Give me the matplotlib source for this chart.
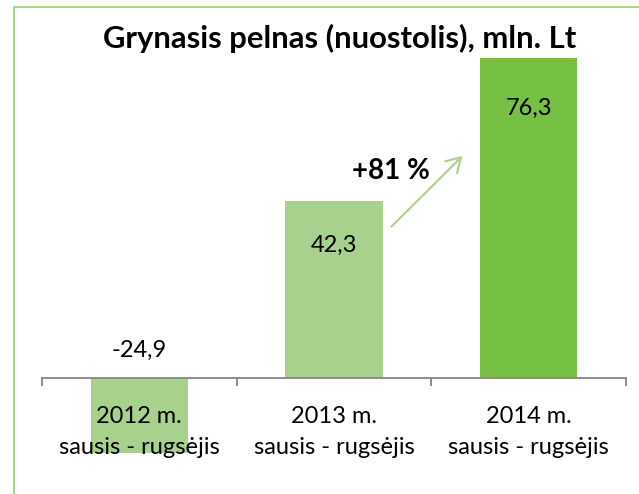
import numpy as np
import matplotlib
matplotlib.use("Agg")
import matplotlib.pyplot as plt
from matplotlib.patches import FancyArrowPatch, Rectangle

plt.rcParams["font.family"] = ["Lato", "DejaVu Sans"]

# data
periods = ["2012 m.\nsausis - rugsėjis", "2013 m.\nsausis - rugsėjis", "2014 m.\nsausis - rugsėjis"]
profit = [-24.9, 42.3, 76.3]
value_labels = ["-24,9", "42,3", "76,3"]
bar_colors = ["#a9d18e", "#a9d18e", "#76c043"]
growth_label = "+81 %"
title = "Grynasis pelnas (nuostolis), mln. Lt"

W, H = 639, 494
fig = plt.figure(figsize=(W / 100, H / 100), dpi=100)

# chart border (only left/top visible in the crop)
fig.patches.append(Rectangle((14 / W, -0.1), 1.2, (H - 6.5) / H + 0.1,
                             transform=fig.transFigure, fill=False,
                             edgecolor="#92d36e", linewidth=1.2))

ax = fig.add_axes([42 / W, (H - 453) / H, (626 - 42) / W, (453 - 43) / H])
x = np.arange(len(profit))
ax.bar(x, profit, width=0.5, color=bar_colors, zorder=1)
ax.set_xlim(-0.5, 2.5)
ax.set_ylim(-17.9, 80.0)

for s in ["top", "right", "left"]:
    ax.spines[s].set_visible(False)
ax.spines["bottom"].set_position(("data", 0))
ax.spines["bottom"].set_color("#868686")
ax.spines["bottom"].set_linewidth(1.3)
ax.set_yticks([])

ax.set_xticks(x)
ax.set_xticklabels(periods, fontsize=17)
for t in ax.get_xticklabels():
    t.set_linespacing(1.6)
ax.tick_params(axis="x", which="major", length=0, pad=20)
ax.set_xticks([-0.5, 0.5, 1.5, 2.5], minor=True)
ax.tick_params(axis="x", which="minor", length=6, width=1.3, color="#868686", direction="out")

# value labels
ax.text(0, 6.5, value_labels[0], ha="center", va="center", fontsize=17)
ax.text(1, profit[1] - 10.5, value_labels[1], ha="center", va="center", fontsize=17)
ax.text(2, profit[2] - 11.8, value_labels[2], ha="center", va="center", fontsize=17)

# growth arrow
arr = FancyArrowPatch((1.285, 35.7), (1.67, 53.5), arrowstyle="->,head_length=5,head_width=3",
                      color="#a9d18e", linewidth=1.5, mutation_scale=2)
ax.add_patch(arr)
ax.text(1.295, 49.5, growth_label, ha="center", va="center", fontsize=20, fontweight="bold")

fig.text(340 / W, (H - 38) / H, title, ha="center", va="center", fontsize=22.3, fontweight="bold")

fig.savefig("out.png", dpi=100)
